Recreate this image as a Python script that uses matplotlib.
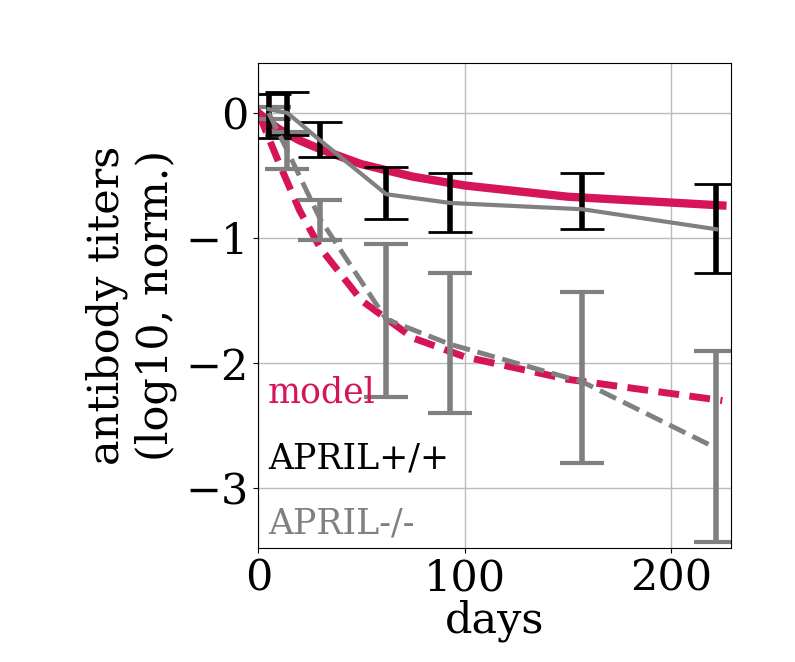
import matplotlib.pyplot as plt

plt.rcParams['font.family'] = 'DejaVu Serif'
plt.rcParams['font.size'] = 31

# model curves
model_days = [0, 5, 10, 20, 30, 50, 75, 100, 150, 225]
model_wt = [0, -0.07, -0.13, -0.22, -0.29, -0.41, -0.51, -0.58, -0.67, -0.74]
model_ko = [0, -0.2, -0.4, -0.78, -1.08, -1.5, -1.8, -1.95, -2.13, -2.3]

# APRIL+/+ data
wt_days = [5, 14, 30, 62, 93, 157, 222]
wt_mean = [0.03, 0.0, -0.22, -0.65, -0.72, -0.77, -0.93]
wt_lo = [-0.2, -0.18, -0.35, -0.85, -0.95, -0.93, -1.28]
wt_hi = [0.15, 0.17, -0.07, -0.43, -0.48, -0.48, -0.57]

# APRIL-/- data
ko_days = [5, 14, 30, 62, 93, 157, 222]
ko_mean = [0.0, -0.3, -0.85, -1.65, -1.85, -2.15, -2.68]
ko_lo = [-0.05, -0.45, -1.02, -2.27, -2.4, -2.8, -3.43]
ko_hi = [0.05, -0.15, -0.7, -1.05, -1.28, -1.43, -1.9]

red = '#d6145a'
fig = plt.figure(figsize=(7.95, 6.62), dpi=100)
ax = fig.add_axes([0.325, 0.172, 0.594, 0.733])

ax.plot(model_days, model_wt, color=red, lw=6)
ax.plot(model_days, model_ko, color=red, lw=5, ls=(0, (3, 1.5)))

ax.errorbar(ko_days, ko_mean,
            yerr=[[m - l for m, l in zip(ko_mean, ko_lo)],
                  [h - m for m, h in zip(ko_mean, ko_hi)]],
            color='grey', lw=3.5, ls='--', capsize=16, elinewidth=4, capthick=3)
ax.errorbar(wt_days, wt_mean,
            yerr=[[m - l for m, l in zip(wt_mean, wt_lo)],
                  [h - m for m, h in zip(wt_mean, wt_hi)]],
            fmt='none', ecolor='black', capsize=16, elinewidth=4, capthick=2)
ax.plot(wt_days, wt_mean, color='grey', lw=3)

ax.set_xlim(0, 229)
ax.set_ylim(-3.48, 0.4)
ax.set_xticks([0, 100, 200])
ax.set_yticks([0, -1, -2, -3])
ax.set_yticklabels(['0', '\u22121', '\u22122', '\u22123'])
ax.grid(True, color='#bbbbbb', lw=1)
ax.set_xlabel('days', labelpad=0)
ax.set_ylabel('antibody titers\n(log10, norm.)', labelpad=6)

ax.text(0.02, 0.3, 'model', color=red, fontsize=25, transform=ax.transAxes)
ax.text(0.02, 0.165, 'APRIL+/+', color='black', fontsize=25, transform=ax.transAxes)
ax.text(0.02, 0.03, 'APRIL-/-', color='grey', fontsize=25, transform=ax.transAxes)

plt.savefig('out.png')
